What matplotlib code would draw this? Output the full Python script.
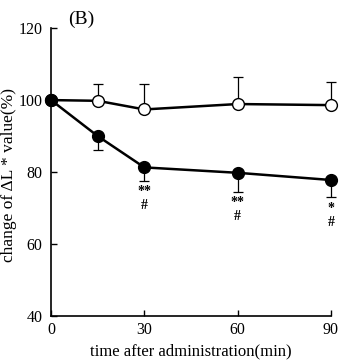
import numpy as np
import matplotlib
matplotlib.use("Agg")
import matplotlib.pyplot as plt

plt.rcParams['font.family'] = ['Liberation Serif', 'DejaVu Serif']

time = [0, 15, 30, 60, 90]
control = [100, 99.8, 97.4, 98.9, 98.6]
control_sd = [0, 4.6, 7.0, 7.4, 6.3]
treated = [100, 90.0, 81.3, 79.8, 77.8]
treated_sd = [0, 3.9, 3.8, 5.3, 4.8]
marks = ["", "", "**\n#", "**\n#", "*\n#"]

fig = plt.figure(figsize=(3.57, 3.60), dpi=100)
ax = fig.add_axes([0.143, 0.122, 0.784, 0.80])

zeros = np.zeros(len(time))
ax.errorbar(time, control, yerr=[zeros, control_sd], fmt='none', ecolor='black',
            elinewidth=0.9, capsize=3.5, capthick=0.9, clip_on=False)
ax.errorbar(time, treated, yerr=[treated_sd, zeros], fmt='none', ecolor='black',
            elinewidth=0.9, capsize=3.5, capthick=0.9, clip_on=False)
ax.plot(time, control, '-o', color='black', lw=1.8, ms=8.5, mfc='white', mec='black',
        mew=1.0, clip_on=False, zorder=3)
ax.plot(time, treated, '-o', color='black', lw=1.8, ms=8.5, mfc='black', mec='black',
        clip_on=False, zorder=4)

for t, v, sd, m in zip(time, treated, treated_sd, marks):
    if m:
        ax.text(t, v - sd - 1.2, m, ha='center', va='top', fontsize=10,
                fontweight='bold', linespacing=1.1)

ax.set_xlim(0, 90)
ax.set_ylim(40, 120)
ax.set_xticks([0, 30, 60, 90])
ax.set_yticks([40, 60, 80, 100, 120])
ax.tick_params(direction='in', length=4, width=1, labelsize=11.5)
ax.tick_params(axis='x', pad=4)
ax.tick_params(axis='y', pad=6)
ax.spines['top'].set_visible(False)
ax.spines['right'].set_visible(False)
ax.spines['left'].set_linewidth(1.2)
ax.spines['bottom'].set_linewidth(1.2)

ax.set_xlabel("time after administration(min)", fontsize=12, labelpad=4)
ax.set_ylabel("change of \u0394L * value(%)", fontsize=12.5)
ax.yaxis.set_label_coords(-0.12, 0.49)
fig.text(0.19, 0.945, "(B)", fontsize=14, ha='left', va='center')

fig.savefig("out.png", dpi=100)
